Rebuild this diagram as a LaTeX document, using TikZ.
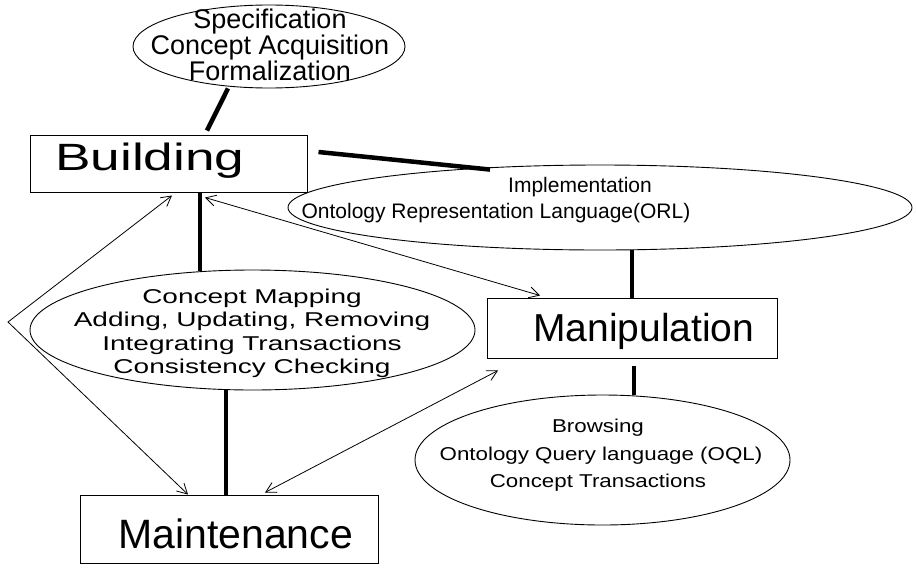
\documentclass[tikz,border=0pt]{standalone}
\usepackage{fontspec}
\setmainfont{Liberation Sans}
% wide faces for some labels
\newfontfamily\widefont[FakeStretch=1.4]{Liberation Sans}
\newfontfamily\midfont[FakeStretch=1.2]{Liberation Sans}
\usetikzlibrary{arrows.meta, calc, positioning, shapes.geometric}

\begin{document}
\begin{tikzpicture}[x=1pt, y=-1pt, >={Straight Barb[length=10pt, width=11pt]},
  phase/.style={draw, line width=1pt, inner sep=0pt},
  task/.style={draw, ellipse, line width=0.9pt, inner sep=0pt},
  txt/.style={anchor=base, inner sep=0pt},
  link/.style={line width=4.5pt},
  flow/.style={<->, line width=0.8pt}]
  \useasboundingbox (0,0) rectangle (917,573);

  % phases
  \node[phase, minimum width=277, minimum height=57] (build) at (168.5,163.5) {};
  \node[txt, font=\widefont\fontsize{38}{38}\selectfont, anchor=base west] (buildtxt) at (55,170) {Building};
  \node[phase, minimum width=290, minimum height=60] (manip) at (632,328) {};
  \node[txt, font=\fontsize{39}{39}\selectfont, anchor=base west] (maniptxt) at (533,341) {Manipulation};
  \node[phase, minimum width=298, minimum height=68] (maint) at (229,529) {};
  \node[txt, font=\fontsize{41}{41}\selectfont, anchor=base west] (mainttxt) at (118,548) {Maintenance};

  % activities
  \node[task, minimum width=272, minimum height=83] (spec) at (269,46.5) {};
  \node[txt, font=\fontsize{27}{27}\selectfont] (spec1) at (270,28) {Specification};
  \node[txt, font=\fontsize{27}{27}\selectfont] (spec2) at (270,54) {Concept Acquisition};
  \node[txt, font=\fontsize{27}{27}\selectfont] (spec3) at (270,80.5) {Formalization};

  \node[task, minimum width=624, minimum height=85] (impl) at (600,207.5) {};
  \node[txt, font=\fontsize{21}{21}\selectfont] (impl1) at (580,192) {Implementation};
  \node[txt, font=\fontsize{21}{21}\selectfont] (impl2) at (496,218) {Ontology Representation Language(ORL)};

  \node[task, minimum width=445, minimum height=120] (mapping) at (252.5,330) {};
  \foreach \i/\y/\t in {1/303/Concept Mapping, 2/326/{Adding, Updating, Removing},
      3/350/Integrating Transactions, 4/373/Consistency Checking}
    \node[txt, font=\widefont\fontsize{20}{20}\selectfont] (map\i) at (252,\y) {\t};

  \node[task, minimum width=375, minimum height=130] (browse) at (602.5,460) {};
  \node[txt, font=\midfont\fontsize{18.6}{18.6}\selectfont] (browse1) at (598,432) {Browsing};
  \node[txt, font=\midfont\fontsize{18.6}{18.6}\selectfont] (browse2) at (601,460) {Ontology Query language (OQL)};
  \node[txt, font=\midfont\fontsize{18.6}{18.6}\selectfont] (browse3) at (598,487) {Concept Transactions};

  % thick links
  \draw[link] ([xshift=-41pt]spec.south) -- ([xshift=38.5pt, yshift=4pt]build.north);
  \draw[link] ([shift={(11pt,11.5pt)}]build.east) -- ([shift={(-110pt,-5pt)}]impl.north);
  \draw[link] ([xshift=31.5pt]build.south) -- ([xshift=-52.5pt, yshift=-1pt]mapping.north);
  \draw[link] ([xshift=32pt]impl.south) -- (manip.north);
  \draw[link] ([shift={(2pt,-7pt)}]manip.south) -- ([xshift=31.5pt]browse.north);
  \draw[link] ([xshift=-26.5pt]mapping.south) -- ([xshift=-3pt]maint.north);

  % two-way arrows
  \coordinate (bend) at (8,322);
  \draw[flow] ([shift={(36.5pt,-5pt)}]build.south) -- ([shift={(-92pt,2pt)}]manip.north);
  \draw[flow] ([shift={(36pt,2pt)}]maint.north) -- ([shift={(-134pt,-12pt)}]manip.south);
  \draw[flow] ([shift={(3.5pt,-3pt)}]build.south) -- (bend) -- ([shift={(-41pt,0pt)}]maint.north);
\end{tikzpicture}
\end{document}
